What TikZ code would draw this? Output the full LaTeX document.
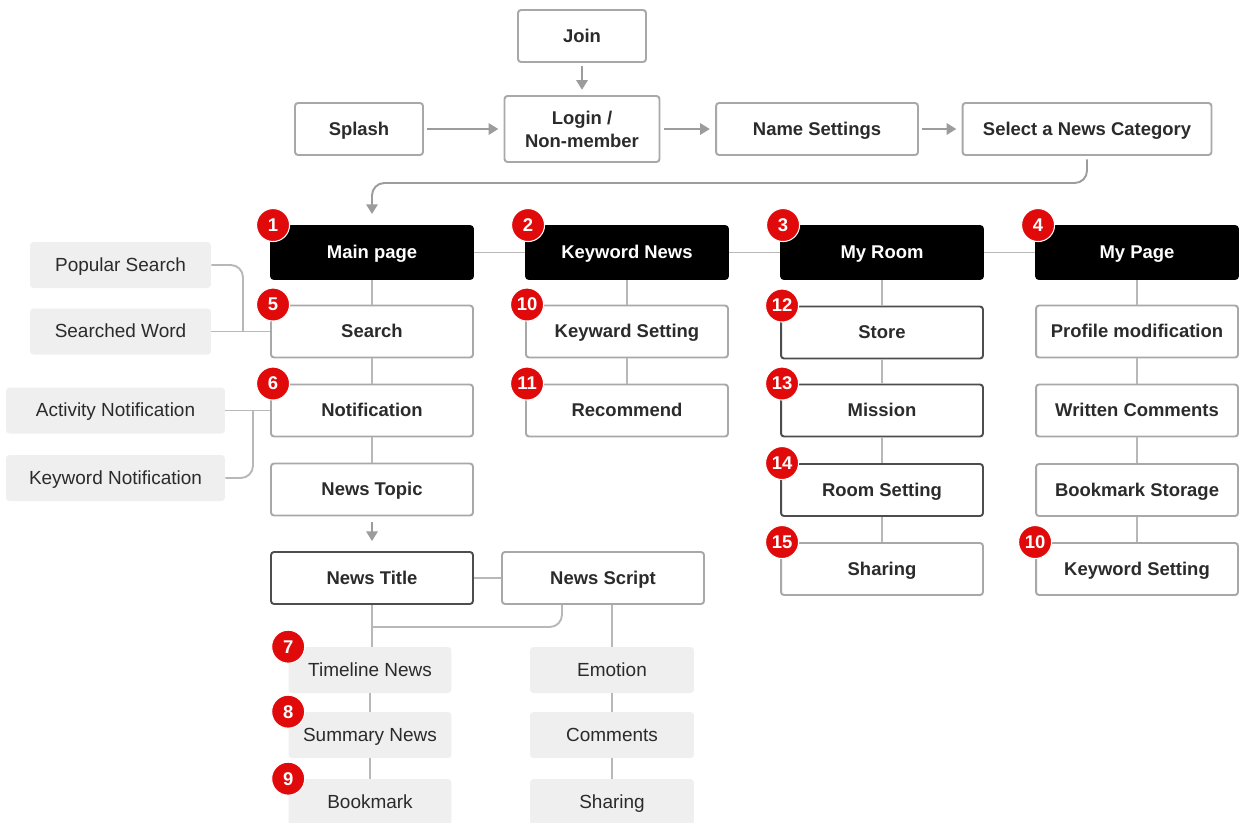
\documentclass[tikz,border=0pt]{standalone}
\usepackage{fontspec}
\setmainfont{Liberation Sans}
\usepackage{tikz}
\usetikzlibrary{arrows.meta,calc}
\definecolor{boxline}{HTML}{A8A8A8}
\definecolor{darkline}{HTML}{4D4D4D}
\definecolor{wiregray}{HTML}{B8B8B8}
\definecolor{arrowgray}{HTML}{9C9C9C}
\definecolor{softfill}{HTML}{EFEFEF}
\definecolor{ink}{HTML}{2B2B2B}
\definecolor{badgered}{HTML}{E10A0A}
\tikzset{
  screenbase/.style={draw=boxline, line width=1.1pt, rounded corners=1.7pt, fill=white, text=ink, font=\fontsize{10.5}{13}\selectfont\bfseries, minimum width=4.04cm, minimum height=1.04cm, inner sep=0pt, align=center},
  screen/.style={screenbase, text height=0.9em, text depth=0.18em},
  darkscreen/.style={screen, draw=darkline},
  tab/.style={screen, fill=black, draw=black, text=white, minimum height=1.06cm},
  sub/.style={fill=softfill, rounded corners=2pt, text=ink, font=\fontsize{10.8}{12}\selectfont, minimum height=0.92cm, inner sep=0pt, text height=0.9em, text depth=0.18em},
  badge/.style={circle, fill=badgered, draw=white, line width=0.6pt, text=white, font=\fontsize{10.5}{10}\selectfont\bfseries, minimum size=0.66cm, inner sep=0pt},
  link/.style={draw=wiregray, line width=1.1pt},
  flow/.style={draw=arrowgray, line width=1.1pt, shorten <=2pt, shorten >=3pt, -{Triangle[width=6.5pt,length=5.5pt]}},
}

\begin{document}
\begin{tikzpicture}[x=0.02cm,y=-0.02cm]
\useasboundingbox (0,0) rectangle (1239,822);
\node[screen, minimum width=2.56cm] (join) at (582,36) {Join};
\node[screen, minimum width=2.56cm] (splash) at (359,129) {Splash};
\node[screenbase, minimum width=3.1cm, minimum height=1.32cm] (login) at (582,129) {Login /\\Non-member};
\node[screen] (names) at (817,129) {Name Settings};
\node[screen, minimum width=4.98cm] (category) at (1087,129) {Select a News Category};
\coordinate (turn) at (372,183);
\coordinate (mainin) at (372,214);
\draw[flow] (join) -- (login);
\draw[flow] (splash) -- (login);
\draw[flow] (login) -- (names);
\draw[flow] (names) -- (category);
\draw[flow, rounded corners=7pt, shorten >=0pt] (category.south) |- (turn) -- (mainin);

\node[tab] (main) at (372,252.5) {Main page};
\node[tab] (kwnews) at (627,252.5) {Keyword News};
\node[tab] (room) at (882,252.5) {My Room};
\node[tab] (mypage) at (1137,252.5) {My Page};
\draw[link] (main) -- (kwnews) (kwnews) -- (room) (room) -- (mypage);

\node[screen] (search) at (372,331.5) {Search};
\node[screen] (noti) at (372,410.5) {Notification};
\node[screen] (topic) at (372,489.5) {News Topic};
\node[screen] (kwset) at (627,331.5) {Keyward Setting};
\node[screen] (recommend) at (627,410.5) {Recommend};
\node[darkscreen] (store) at (882,332.5) {Store};
\node[darkscreen] (mission) at (882,410.5) {Mission};
\node[darkscreen] (roomset) at (882,490) {Room Setting};
\node[screen] (share) at (882,569) {Sharing};
\node[screen] (profile) at (1137,331.5) {Profile modification};
\node[screen] (written) at (1137,410.5) {Written Comments};
\node[screen] (bmstore) at (1137,490) {Bookmark Storage};
\node[screen] (kwsetb) at (1137,569) {Keyword Setting};
\draw[link] (main) -- (search) (search) -- (noti) (noti) -- (topic);
\draw[link] (kwnews) -- (kwset) (kwset) -- (recommend);
\draw[link] (room) -- (store) (store) -- (mission) (mission) -- (roomset) (roomset) -- (share);
\draw[link] (mypage) -- (profile) (profile) -- (written) (written) -- (bmstore) (bmstore) -- (kwsetb);

\node[sub, minimum width=3.62cm] (popular) at (120.5,265) {Popular Search};
\node[sub, minimum width=3.62cm] (word) at (120.5,331.5) {Searched Word};
\node[sub, minimum width=4.38cm] (actnoti) at (115.5,410.5) {Activity Notification};
\node[sub, minimum width=4.38cm] (kwnoti) at (115.5,478) {Keyword Notification};
\coordinate (srchjoin) at (243,331.5);
\coordinate (notijoin) at (253,410.5);
\draw[link] (word) -- (search);
\draw[link, rounded corners=7pt] (popular.east) -| (srchjoin);
\draw[link] (actnoti) -- (noti);
\draw[link, rounded corners=7pt] (kwnoti.east) -| (notijoin);

\node[darkscreen] (title) at (372,578) {News Title};
\node[screen] (script) at (603,578) {News Script};
\draw[flow, shorten <=3pt, shorten >=5.7pt] (topic) -- (title);
\draw[link] (title) -- (script);

\node[sub, minimum width=3.26cm] (timeline) at (370,670) {Timeline News};
\node[sub, minimum width=3.26cm] (summary) at (370,735) {Summary News};
\node[sub, minimum width=3.26cm] (bookmark) at (370,802) {Bookmark};
\node[sub, minimum width=3.28cm] (emotion) at (612,670) {Emotion};
\node[sub, minimum width=3.28cm] (comments) at (612,735) {Comments};
\node[sub, minimum width=3.28cm] (sharing) at (612,802) {Sharing};
\coordinate (fork) at (372,627);
\draw[link] (title.south) -- (title.south |- timeline.north);
\draw[link, rounded corners=7pt] ([xshift=-0.82cm]script.south) |- (fork);
\draw[link] (timeline) -- (summary) (summary) -- (bookmark);
\draw[link] (emotion.north |- script.south) -- (emotion.north);
\draw[link] (emotion) -- (comments) (comments) -- (sharing);

\node[badge] (b1) at ([xshift=0.06cm]main.north west) {1};
\node[badge] (b2) at ([xshift=0.06cm]kwnews.north west) {2};
\node[badge] (b3) at ([xshift=0.06cm]room.north west) {3};
\node[badge] (b4) at ([xshift=0.06cm]mypage.north west) {4};
\node[badge] (b5) at ([xshift=0.06cm]search.north west) {5};
\node[badge] (b6) at ([xshift=0.06cm]noti.north west) {6};
\node[badge] (b7) at (timeline.north west) {7};
\node[badge] (b8) at (summary.north west) {8};
\node[badge] (b9) at (bookmark.north west) {9};
\node[badge] (b10) at ([xshift=0.04cm]kwset.north west) {10};
\node[badge] (b11) at ([xshift=0.04cm]recommend.north west) {11};
\node[badge] (b12) at ([xshift=0.04cm]store.north west) {12};
\node[badge] (b13) at ([xshift=0.04cm]mission.north west) {13};
\node[badge] (b14) at ([xshift=0.04cm]roomset.north west) {14};
\node[badge] (b15) at ([xshift=0.04cm]share.north west) {15};
\node[badge] (b10b) at (kwsetb.north west) {10};
\end{tikzpicture}
\end{document}
